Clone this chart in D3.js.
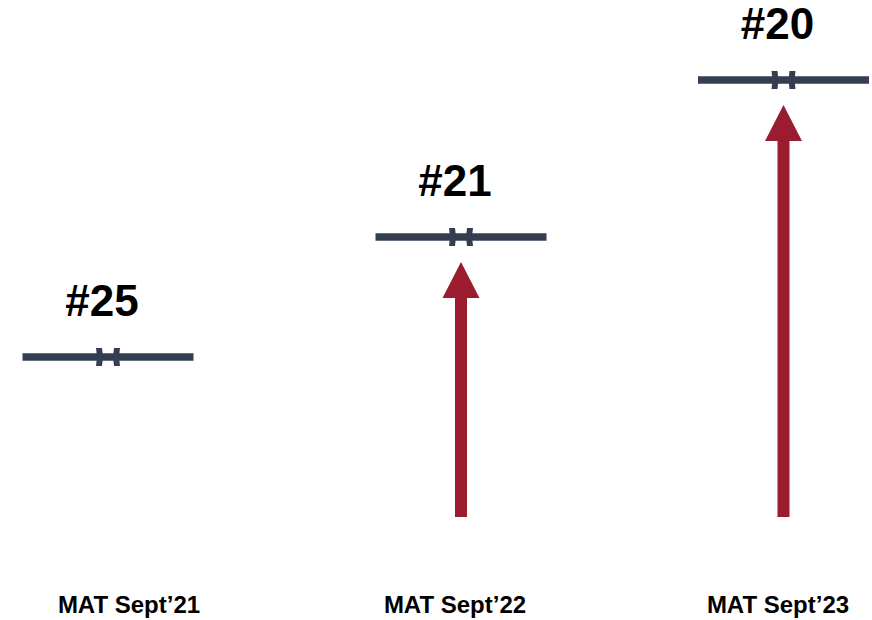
<!DOCTYPE html>
<html>
<head>
<meta charset="utf-8">
<script src="https://cdn.jsdelivr.net/npm/d3@7/dist/d3.min.js"></script>
<style>
  html, body { margin: 0; padding: 0; background: #ffffff; }
  svg { display: block; }
  text { font-family: "Liberation Sans", Arial, sans-serif; font-weight: bold; fill: #000; }
</style>
</head>
<body>
<svg id="chart" width="872" height="620"></svg>
<script>
// ---- data ----
const categories = ["MAT Sept\u201921", "MAT Sept\u201922", "MAT Sept\u201923"];
const ranks = [25, 21, 20];
const rankLabels = ["#25", "#21", "#20"];

// ---- layout ----
const svg = d3.select("#chart");
const lineColor = "#333f50";
const arrowColor = "#9b1c2e";

// mark centres and axis-label centres per category
const x = d3.scaleOrdinal().domain(categories).range([108, 461, 783.5]);
const xLabel = d3.scaleOrdinal().domain(categories).range([129, 455, 778]);
// piecewise-linear rank scale (as laid out in the reference)
const y = d3.scaleLinear().domain([25, 21, 20]).range([357, 237, 80]);
const arrowBase = 517;

const data = categories.map((c, i) => ({
  cat: c, rank: ranks[i], label: rankLabels[i],
  improved: i > 0 && ranks[i] < ranks[i - 1]
}));

// arrows
const headH = 36, headW = 37, shaftW = 12, gap = 25;
svg.append("g").selectAll("path")
  .data(data.filter(d => d.improved))
  .join("path")
  .attr("fill", arrowColor)
  .attr("d", d => {
    const cx = x(d.cat);
    const tip = y(d.rank) + gap;
    const hb = tip + headH;
    return `M${cx},${tip} L${cx + headW / 2},${hb} L${cx + shaftW / 2},${hb} L${cx + shaftW / 2},${arrowBase} ` +
           `L${cx - shaftW / 2},${arrowBase} L${cx - shaftW / 2},${hb} L${cx - headW / 2},${hb} Z`;
  });

// rank lines
const halfLen = 85.5, thick = 7.5;
const g = svg.append("g").selectAll("g").data(data).join("g")
  .attr("transform", d => `translate(${x(d.cat)},${y(d.rank)})`);

g.append("line")
  .attr("x1", -halfLen).attr("x2", halfLen)
  .attr("y1", 0).attr("y2", 0)
  .attr("stroke", lineColor)
  .attr("stroke-width", thick);

// double marker at the centre
g.append("path")
  .attr("fill", lineColor)
  .attr("d", "M-12,-9 L-6,-9 L-5,0 L-6,9 L-12,9 L-11,0 Z M12,-9 L6,-9 L5,0 L6,9 L12,9 L11,0 Z");

// rank labels
g.append("text")
  .attr("x", -6).attr("y", -41)
  .attr("text-anchor", "middle")
  .style("font-size", "44px")
  .text(d => d.label);

// category labels
svg.append("g").selectAll("text").data(categories).join("text")
  .attr("x", d => xLabel(d))
  .attr("y", 613)
  .attr("text-anchor", "middle")
  .style("font-size", "24px")
  .text(d => d);
</script>
</body>
</html>
